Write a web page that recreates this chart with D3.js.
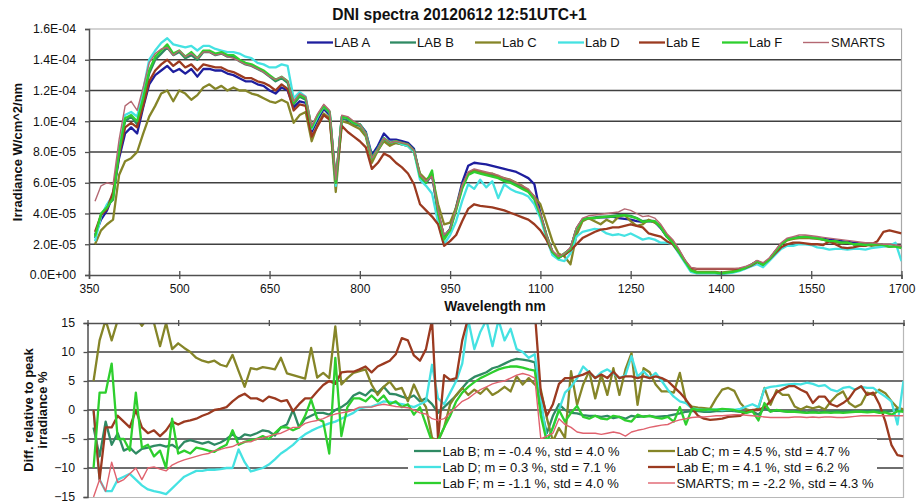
<!DOCTYPE html>
<html><head><meta charset="utf-8">
<script src="https://cdn.jsdelivr.net/npm/d3@7"></script>
<style>body{margin:0;background:#fff}svg{display:block;font-family:"Liberation Sans",Arial,sans-serif}</style>
</head><body><svg id="c" width="919" height="504"></svg>
<script>
// ---------- DATA ----------
const title = "DNI spectra 20120612 12:51UTC+1";
const wavelengths = [360,370,380,390,400,410,420,430,440,450,
460,470,480,490,500,510,520,530,540,550,
560,570,580,590,600,610,620,630,640,650,
660,670,680,690,700,710,720,730,740,750,
760,770,780,790,800,810,820,830,840,850,
860,870,880,890,900,910,920,930,940,950,
960,970,980,990,1000,1010,1020,1030,1040,1050,
1060,1070,1080,1090,1100,1110,1120,1130,1140,1150,
1160,1170,1180,1190,1200,1210,1220,1230,1240,1250,
1260,1270,1280,1290,1300,1310,1320,1330,1340,1350,
1360,1370,1380,1390,1400,1410,1420,1430,1440,1450,
1460,1470,1480,1490,1500,1510,1520,1530,1540,1550,
1560,1570,1580,1590,1600,1610,1620,1630,1640,1650,
1660,1670,1680,1690,1700];
const UNIT = 1e-5; // irradiance arrays are in 1E-05 W/cm^2/nm
const labA = [2.6,3.6,4.2,5.2,7.6,9.2,9.6,9.2,10.9,12.4,
13.0,13.3,13.6,13.2,13.4,13.1,13.4,12.9,13.4,13.4,
13.3,13.3,13.1,13.0,12.8,12.6,12.6,12.4,12.3,12.0,
11.8,12.2,12.0,10.9,11.3,11.2,9.3,10.1,10.8,10.4,
6.0,10.2,10.1,9.9,9.8,9.3,7.8,8.4,9.2,8.8,
8.8,8.7,8.6,8.2,6.4,6.0,6.5,4.0,2.5,3.0,
4.4,6.0,7.1,7.3,7.25,7.2,7.1,7.0,6.9,6.8,
6.7,6.5,6.3,5.9,4.0,2.6,1.5,1.1,1.35,1.7,
3.0,3.6,3.7,3.7,3.75,3.75,3.8,3.7,3.65,3.6,
3.5,3.45,3.5,3.45,3.05,2.5,2.1,1.5,0.9,0.3,
0.15,0.15,0.15,0.15,0.1,0.15,0.2,0.3,0.45,0.65,
0.9,0.65,1.0,1.5,2.0,2.3,2.4,2.45,2.45,2.4,
2.4,2.35,2.3,2.25,2.2,2.15,2.1,2.05,2.0,2.0,
2.0,1.95,1.9,1.9,1.85];
const labB = [2.4,3.9,4.5,4.9,8.2,10.0,10.3,9.8,11.4,13.1,
14.0,14.4,14.8,14.3,14.5,14.1,14.3,14.0,14.5,14.5,
14.3,14.4,14.2,14.2,13.9,13.7,13.6,13.4,13.2,12.9,
12.6,12.8,12.5,11.1,11.6,11.4,9.5,10.3,10.9,10.5,
6.1,10.2,10.1,9.8,9.7,9.1,7.5,8.1,8.8,8.5,
8.6,8.5,8.4,8.0,6.5,6.0,6.6,4.1,2.5,3.0,
4.3,5.7,6.6,6.8,6.7,6.6,6.5,6.4,6.2,6.1,
5.9,5.7,5.5,5.0,3.9,2.6,1.5,1.1,1.4,1.7,
3.0,3.6,3.7,3.75,3.8,3.8,3.85,3.9,3.9,3.85,
3.7,3.5,3.55,3.5,3.1,2.5,2.1,1.5,0.9,0.3,
0.15,0.15,0.15,0.15,0.1,0.15,0.2,0.3,0.45,0.65,
0.9,0.65,1.0,1.5,2.0,2.3,2.4,2.45,2.5,2.45,
2.4,2.3,2.2,2.2,2.1,2.1,2.0,2.0,1.95,2.0,
2.0,1.95,1.85,1.9,1.8];
const labC = [2.0,2.9,3.3,3.6,6.5,7.4,7.6,8.0,9.2,10.3,
11.0,11.8,12.0,11.3,12.0,11.8,11.4,11.7,12.2,12.4,
12.1,12.3,12.0,12.2,12.0,12.0,11.8,11.7,11.5,11.3,
11.2,11.4,11.2,9.9,10.4,10.6,8.7,9.8,10.5,10.2,
5.4,10.0,9.9,9.7,9.5,9.0,7.3,8.1,8.7,8.4,
8.6,8.5,8.4,8.0,6.6,6.2,6.5,4.6,3.3,3.4,
4.4,5.8,6.6,6.8,6.7,6.6,6.6,6.4,6.3,6.2,
6.0,5.8,5.5,5.1,4.6,3.4,2.2,1.4,1.2,0.7,
2.6,3.5,3.7,3.5,3.3,3.6,3.4,3.8,3.9,3.5,
3.2,3.3,3.6,3.4,3.2,2.6,2.2,1.6,0.95,0.35,
0.2,0.2,0.2,0.2,0.15,0.2,0.25,0.3,0.45,0.65,
0.9,0.6,1.0,1.5,2.0,2.25,2.35,2.4,2.4,2.4,
2.35,2.3,2.2,2.15,2.05,2.1,2.0,1.95,2.0,1.9,
1.95,1.9,1.85,1.9,1.85];
const labD = [2.2,3.8,4.6,5.2,8.2,10.4,10.6,10.3,12.0,14.0,
14.6,15.1,15.4,15.0,14.9,14.8,14.9,14.6,14.9,14.9,
14.7,14.6,14.5,14.5,14.4,14.2,14.1,13.8,13.7,13.5,
13.5,13.7,13.6,11.5,11.9,11.6,9.5,10.3,11.0,10.6,
5.8,10.3,10.2,9.9,9.8,9.2,7.6,8.2,8.9,8.6,
8.7,8.5,8.4,8.0,6.2,5.8,5.3,3.4,2.0,2.6,
3.5,4.8,5.9,5.6,6.2,5.7,6.1,5.0,5.9,5.6,
5.4,5.3,5.1,4.6,3.7,2.4,1.3,1.0,0.9,1.4,
2.5,2.8,2.9,3.0,2.95,2.7,2.6,2.65,2.55,2.7,
2.5,2.3,2.4,2.3,2.1,2.1,2.0,1.4,0.8,0.2,
0.1,0.1,0.1,0.1,0.05,0.1,0.15,0.25,0.4,0.55,
0.7,0.5,0.9,1.3,1.7,1.9,1.9,2.0,2.0,1.95,
1.8,1.75,1.65,1.7,1.7,1.65,1.7,1.7,1.65,1.75,
1.8,1.85,1.9,2.1,0.9];
const labE = [2.8,3.9,4.3,5.4,7.8,9.6,9.9,9.6,11.0,12.6,
13.3,13.7,14.0,13.6,13.9,13.5,13.7,13.3,13.7,13.6,
13.5,13.5,13.3,13.2,13.0,12.8,12.8,12.6,12.5,12.3,
12.0,12.4,12.1,10.7,11.1,11.0,9.0,9.7,10.4,10.1,
6.0,9.7,9.3,9.0,8.7,8.3,6.9,7.3,7.9,7.7,
7.3,7.0,6.6,5.9,4.6,4.2,3.8,3.3,1.9,2.2,
2.6,3.5,4.3,4.6,4.5,4.45,4.4,4.3,4.2,4.05,
3.9,3.75,3.6,3.3,2.9,2.3,1.5,1.2,1.3,1.6,
2.0,2.4,2.6,2.8,2.95,3.0,3.1,3.1,3.2,3.3,
3.2,3.1,2.7,2.6,2.5,2.2,2.0,1.5,0.9,0.45,
0.4,0.4,0.4,0.4,0.4,0.4,0.4,0.4,0.45,0.6,
0.85,0.7,1.0,1.4,1.8,2.0,2.1,2.1,2.05,2.0,
2.0,1.95,2.2,2.0,1.8,1.75,1.8,1.9,1.9,2.0,
2.2,2.8,2.9,2.8,2.7];
const labF = [2.5,4.0,4.4,5.0,8.0,10.2,10.4,10.0,11.5,13.3,
14.2,14.6,15.0,14.4,14.6,14.2,14.5,14.1,14.6,14.6,
14.4,14.5,14.3,14.3,14.0,13.8,13.7,13.5,13.3,13.0,
12.7,12.9,12.6,11.2,11.7,11.5,9.6,10.4,11.0,10.6,
6.0,10.3,10.2,9.9,9.8,9.2,7.6,8.2,8.9,8.6,
8.7,8.6,8.5,8.1,6.4,6.0,6.8,4.0,2.3,2.9,
4.2,5.6,6.5,6.7,6.6,6.5,6.4,6.3,6.1,6.0,
5.8,5.6,5.4,4.9,3.9,2.6,1.5,1.1,1.4,1.7,
3.0,3.6,3.7,3.7,3.75,3.8,3.8,3.85,3.9,3.8,
3.7,3.45,3.5,3.5,3.1,2.5,2.1,1.5,0.9,0.3,
0.15,0.15,0.15,0.15,0.1,0.15,0.2,0.3,0.45,0.65,
0.9,0.65,1.0,1.5,2.0,2.3,2.4,2.45,2.5,2.45,
2.4,2.3,2.2,2.2,2.1,2.1,2.0,2.0,1.95,2.0,
2.0,1.95,1.85,1.85,1.75];
const smarts = [4.8,5.8,6.0,5.9,8.8,11.0,11.3,10.7,12.2,13.8,
14.4,14.7,14.8,14.3,14.6,14.2,14.4,14.1,14.5,14.5,
14.3,14.4,14.2,14.1,13.9,13.7,13.6,13.4,13.2,12.9,
12.7,12.9,12.6,11.3,11.8,11.6,9.7,10.5,11.1,10.7,
6.2,10.4,10.3,10.0,9.8,9.2,7.6,8.2,8.9,8.6,
8.7,8.6,8.5,8.1,6.5,6.1,6.4,4.2,2.6,3.0,
4.3,5.8,6.7,6.9,6.8,6.7,6.6,6.5,6.3,6.2,
6.0,5.8,5.6,5.1,4.0,2.6,1.6,1.2,1.4,1.8,
3.1,3.7,3.85,3.9,3.95,4.0,4.05,4.1,4.3,4.2,
4.0,3.8,3.85,3.7,3.3,2.7,2.3,1.7,1.0,0.5,
0.4,0.4,0.4,0.4,0.4,0.4,0.4,0.45,0.55,0.7,
0.95,0.8,1.1,1.6,2.1,2.4,2.5,2.6,2.6,2.55,
2.5,2.45,2.4,2.35,2.3,2.25,2.2,2.15,2.1,2.1,
2.05,2.0,2.0,1.95,1.9];

// Differences relative to peak irradiance, %
const diffB = [-3,-8,-2,-6,-4,-7,-6.5,-7.5,-6.7,-6.5,
-6.2,-6.0,-6.3,-6.0,-6.7,-5.5,-5.2,-5.5,-5.8,-5.5,
-6.0,-5.6,-5.0,-4.2,-5.0,-4.2,-4.4,-4.0,-3.5,-3.7,
-4.4,-3.0,-2.5,0.0,-3.0,-1.5,-1.0,-0.5,-0.5,-0.8,
0,0.5,1.2,2.5,3.0,2.5,3.5,3.0,4.0,2.8,
2.7,2.3,2.0,2.5,1.5,2.0,1.0,-0.5,0.5,1.5,
2.5,3.8,5.0,5.7,6.1,6.5,7.2,7.5,8.0,8.5,
8.8,8.7,8.5,8.2,0.5,-4.0,-1.0,1.0,0,-0.5,
-0.6,-0.9,-1.0,-1.0,-1.2,-1.0,-1.4,-1.2,-1.5,-1.0,
-1.2,-1.1,-1.0,-1.2,-1.1,-1.0,-0.8,-0.6,-0.3,-0.2,
-0.2,-0.3,-0.3,-0.2,-0.2,-0.1,-0.2,-0.3,-0.4,-0.2,
-0.8,0.3,-0.2,-0.1,-0.2,-0.3,-0.2,-0.3,-0.4,-0.3,
-0.4,-0.3,-0.3,-0.2,-0.3,-0.2,-0.3,-0.2,-0.2,-0.1,
-0.2,-0.3,-0.2,0.2,-0.1];
const diffC = [5,12,15.5,12,15.5,16,15.2,16,14.5,16,
15,11,15,10.5,11.5,10.7,10.0,9.0,8.5,8.2,
8.5,7.8,7.5,9.5,6.7,4.0,7.2,7.0,7.4,7.2,
7.0,9.0,6.3,6.0,5.7,5.4,10.7,5.6,6.4,5.5,
14.4,4.4,5.5,6.4,6.7,7.0,4.4,2.6,4.0,4.9,
3.5,3.8,1.5,4.4,2.1,0.5,-4.8,-5.4,-3.0,1.0,
2.6,3.8,2.6,3.5,2.8,3.8,2.6,3.2,4.0,3.2,
5.8,4.4,5.5,4.4,3.5,-1.4,-5.4,-3.1,-4.8,6.7,
0.9,4.4,6.7,2.0,6.1,2.6,7.2,2.6,7.0,9.8,
0.9,7.2,6.5,4.4,3.2,3.2,3.0,6.4,1.5,0.6,
0.4,0.3,0.2,2.0,3.5,3.8,3.3,1.2,0.1,-0.2,
0.3,3.8,0.9,3.4,2.6,2.6,0.6,0.1,0.6,0.3,
0.6,0.1,1.5,2.6,3.2,1.2,0.5,1.0,3.0,2.6,
3.5,2.9,1.5,0.4,0.1];
const diffD = [0,-12,-14,-14,-12,-11.5,-11,-12,-13,-13.7,
-14,-14.2,-14.5,-13.5,-12.5,-11.5,-11,-10.5,-10.5,-10.3,
-10.3,-10.2,-10.0,-10.0,-6.8,-9.0,-10.6,-10.3,-10,-9.4,
-8.5,-7.5,-6.8,-6.0,-5.0,-4.2,-3.6,-3.1,-2.7,-2.3,
-2.0,-1.5,-1.0,-0.5,0.3,0.5,0.6,1.0,1.5,1.4,
1.2,1.0,0.8,0.5,1.0,1.5,7.8,2.0,1.0,3.0,
5.0,8.0,15.5,10.5,13.5,15.5,11,15.5,12,14,
10.5,10.0,9.0,9.6,2.0,-5.5,-3.0,0,3.0,4.0,
5.5,7.5,6.5,5.5,6.5,7.0,6.3,5.5,6.0,9.3,
5.8,6.7,5.5,6.4,5.0,3.5,2.3,1.5,1.2,0.3,
0.1,0,0,0.1,0,0.1,0,0.2,0.6,1.0,
0.5,3.7,4.0,4.1,4.3,4.4,4.5,4.4,4.7,4.5,
4.1,4.3,3.5,3.2,3.8,4.0,3.5,4.0,3.8,3.8,
3.0,2.3,1.5,-2.5,5.0];
const diffE = [0,-12,-3,-3,-1,-2,-3,0,-3,-4,
-3.5,-4.5,-3.5,-2,-2.5,-2,-1.8,-1.5,-1.0,-0.6,
0,0.2,0.5,1.5,2.3,2.8,2.0,2.0,1.5,2.3,
2.0,1.5,1.7,-0.2,1.0,2.0,2.0,3.2,4.3,5.0,
4.5,6.5,6.6,6.6,7.0,7.5,6.5,7.5,8.0,8.5,
9.6,12.4,12.0,9.4,8.5,10.5,15.5,-5,6.0,5.2,
5.5,12,16,17,17,17,17,17,17,17,
17,17,17,17,3,-1.0,1.0,4.5,5.5,5.5,
5.8,6.1,6.6,5.5,6.1,5.5,6.6,5.5,5.8,5.8,
5.5,5.8,5.5,5.8,5.5,5.0,4.0,3.0,1.8,0.3,
-1.0,-1.5,-1.7,-1.6,-1.5,-1.2,-1.1,-1.0,-0.3,0,
0,0.5,1.5,3.0,3.6,4.1,4.1,3.5,3.0,1.2,
2.3,2.3,1.0,0.6,1.2,2.0,3.5,4.1,2.6,3.0,
1.0,-2.0,-6.0,-7.8,-8.0];
const diffF = [-10,3,3,8,-5,-5,-7,3,-6.5,-6,
-8,-7,-10,-1.5,-7.5,-7,-7.5,-6.5,-6.7,-7,
-7.2,-6.5,-6.0,-3.5,-6.0,-5.5,-5.2,-5,-4.5,-5,
-4,-3.0,-3.0,-3.5,-3,-1.0,1.8,-1.5,-2,-7.5,
9,-4.5,0.5,2.0,2.0,1.5,2.5,1.5,2.5,1.0,
1.5,0.5,1.0,-0.8,0.5,-2.5,-5.5,-5.2,-3,-1.0,
1.5,3.0,4.0,4.8,5.5,6.0,6.5,7.0,7.3,7.5,
7.5,7.3,7.0,6.8,-1,-5.5,-3,0,-2,-0.5,
0.7,-1.2,-1.5,-1.0,-1.5,-1.6,-1.0,-1.2,-1.8,-2.0,
-0.8,-1.2,-1.0,-1.3,-1.5,-1.2,-2.0,0.5,-2.5,0.2,
0,0,0.1,0,0.2,0.1,0,-0.3,-0.5,-0.2,
-1.8,1.2,-0.3,0,-0.2,-0.3,-0.3,-0.4,-0.5,-0.4,
-0.5,-0.4,-0.5,-0.4,-0.5,-0.4,-0.3,-0.3,-0.4,-0.3,
-0.5,-0.4,-0.8,-0.2,-0.3];
const diffS = [-15,-12,-14,-9,-12.5,-12,-11,-10,-12,-10,
-9.8,-10.2,-10.5,-9.5,-9.0,-8.6,-8.3,-8,-7.7,-7.5,
-7.0,-6.8,-6.5,-6.3,-5.8,-5.5,-5.5,-5.0,-4.8,-4.5,
-4.2,-4.0,-3.5,-3.0,-3.0,-2.3,-2.0,-1.8,-1.5,-1.0,
-0.7,-0.5,-0.3,0,0.5,0.5,0.5,0.8,1.0,0.8,
0.6,0.5,0.4,0,-0.5,-0.7,-1.5,-1.8,-1.5,-0.5,
0.5,1.5,2.0,2.8,3.5,4.0,4.5,4.8,5.0,5.5,
6.0,6.3,6.0,5.5,-5,-4.5,-4.0,-1.5,-2.5,-3.0,
-3.8,-4.0,-4.0,-4.0,-4.2,-4.0,-3.8,-4.0,-4.5,-3.8,
-3.5,-3.3,-3.0,-2.8,-2.6,-2.5,-2.0,-1.7,-1.5,-1.3,
-1.2,-1.2,-1.1,-1.0,-1.0,-0.9,-0.8,-0.8,-0.9,-1.0,
-1.1,-1.2,-1.3,-1.3,-1.3,-1.3,-1.2,-1.2,-1.3,-1.2,
-1.3,-1.2,-1.2,-1.3,-1.3,-1.2,-1.1,-1.0,-1.0,-1.0,
-1.0,-1.0,-1.0,-1.0,-1.0];

const topNames = ["LAB A","LAB B","Lab C","Lab D","Lab E","Lab F","SMARTS"];
const topColors = ["#1e1e9e","#2f8a63","#858528","#45e2e2","#9b3a20","#2ecf2e","#b46872"];
const topValues = [labA,labB,labC,labD,labE,labF,smarts];
const diffLabels = ["Lab B; m = -0.4 %, std = 4.0 %","Lab C; m = 4.5 %, std = 4.7 %",
  "Lab D; m = 0.3 %, std = 7.1 %","Lab E; m = 4.1 %, std = 6.2 %",
  "Lab F; m = -1.1 %, std = 4.0 %","SMARTS; m = -2.2 %, std = 4.3 %"];
const diffColors = ["#2f8a63","#858528","#45e2e2","#9b3a20","#2ecf2e","#e0626e"];
const diffValues = [diffB,diffC,diffD,diffE,diffF,diffS];
const xTicks = [350,500,650,800,950,1100,1250,1400,1550,1700];
const yTicksTop = [0,2,4,6,8,10,12,14,16];       // in UNIT
const yTicksDiff = [-15,-10,-5,0,5,10,15];

// ---------- CHART ----------
const svg = d3.select("#c");
svg.append("rect").attr("width",919).attr("height",504).attr("fill","#fff");
const GRID = "#404040", AX = "#505050", FONT = "Liberation Sans, Arial, sans-serif";
const LW = 2.3, LW_THIN = 1.4;

function fmtE(v){
  const d = v*UNIT;
  if (d===0) return "0.0E+00";
  const e = Math.floor(Math.log10(d)+1e-9);
  const m = d/Math.pow(10,e);
  return m.toFixed(1)+"E-"+String(-e).padStart(2,"0");
}

// ===== Top chart =====
const x = d3.scaleLinear().domain([350,1700]).range([89,901.5]);
const y = d3.scaleLinear().domain([0,16]).range([275,29]);

svg.append("defs").html('<clipPath id="cpTop"><rect x="89" y="29" width="812.5" height="246"/></clipPath><clipPath id="cpBot"><rect x="87.5" y="323" width="816" height="174"/></clipPath>');

svg.append("g").selectAll("line").data(yTicksTop.filter(t=>t>0&&t<16)).join("line")
  .attr("x1",89).attr("x2",901.5).attr("y1",d=>y(d)).attr("y2",d=>y(d))
  .attr("stroke",GRID).attr("stroke-width",1.3);
svg.append("path").attr("d",`M89,${y(16)}H901.5V275`).attr("fill","none").attr("stroke","#a8a8a8").attr("stroke-width",1.2);

const lineTop = d3.line().x((d,i)=>x(wavelengths[i])).y(d=>y(d));
const gTop = svg.append("g").attr("clip-path","url(#cpTop)");
topValues.forEach((vals,k)=>{
  gTop.append("path").attr("d",lineTop(vals)).attr("fill","none")
    .attr("stroke",topColors[k]).attr("stroke-width",k===6?LW_THIN:LW).attr("stroke-linejoin","round");
});

// legend top
svg.append("rect").attr("x",298).attr("y",30).attr("width",603).attr("height",29).attr("fill","#fff");
const legX = [307,390,475,558,639,722,803];
const lg = svg.append("g");
topNames.forEach((n,k)=>{
  const x0 = legX[k];
  lg.append("line").attr("x1",x0).attr("x2",x0+26).attr("y1",42.5).attr("y2",42.5)
    .attr("stroke",topColors[k]).attr("stroke-width",k===6?LW_THIN:LW);
  lg.append("text").attr("x",x0+(k===6?28:27)).attr("y",47).text(n)
    .attr("font-size","13px").attr("fill","#111");
});

// axes top
const yAx = svg.append("g").attr("transform","translate(89,0)")
  .call(d3.axisLeft(y).tickValues(yTicksTop).tickSize(4).tickPadding(9).tickFormat(fmtE));
yAx.select(".domain").attr("stroke",AX).attr("stroke-width",1.5);
yAx.selectAll(".tick line").attr("stroke",AX).attr("stroke-width",1.3);
yAx.selectAll("text").attr("font-size","12.3px").attr("font-family",FONT).attr("fill","#111");

const xAx = svg.append("g").attr("transform","translate(0,275)")
  .call(d3.axisBottom(x).tickValues(xTicks).tickSize(4).tickFormat(d3.format("d")));
xAx.select(".domain").attr("stroke",AX).attr("stroke-width",1.5);
xAx.selectAll(".tick line").attr("stroke",AX).attr("stroke-width",1.3).attr("y1",-4).attr("y2",4);
xAx.selectAll("text").attr("y",9.5).attr("font-size","12px").attr("font-family",FONT).attr("fill","#111");

svg.append("text").attr("x",459.5).attr("y",20).attr("text-anchor","middle")
  .attr("font-size","15.6px").attr("font-weight","bold").attr("fill","#111").text(title);
svg.append("text").attr("transform","translate(21.5,152) rotate(-90)").attr("text-anchor","middle")
  .attr("font-size","13px").attr("font-weight","bold").attr("fill","#111").text("Irradiance W/cm^2/nm");
svg.append("text").attr("x",495).attr("y",311).attr("text-anchor","middle")
  .attr("font-size","13.8px").attr("font-weight","bold").attr("fill","#111").text("Wavelength nm");

// ===== Bottom chart =====
const x2 = d3.scaleLinear().domain([350,1700]).range([87.5,903.5]);
const y2 = d3.scaleLinear().domain([-15,15]).range([497,323]);

svg.append("g").selectAll("line").data(yTicksDiff.filter(t=>t>-15&&t<15)).join("line")
  .attr("x1",87.5).attr("x2",903.5).attr("y1",d=>y2(d)).attr("y2",d=>y2(d))
  .attr("stroke",d=>d===-10?"#6e6e6e":GRID).attr("stroke-width",d=>d===-10?2:1.3);
svg.append("path").attr("d",`M903.5,323V497.5H87.5`).attr("fill","none").attr("stroke","#b8b8b8").attr("stroke-width",1.2);

const lineBot = d3.line().x((d,i)=>x2(wavelengths[i])).y(d=>y2(d));
const gBot = svg.append("g").attr("clip-path","url(#cpBot)");
diffValues.forEach((vals,k)=>{
  gBot.append("path").attr("d",lineBot(vals)).attr("fill","none")
    .attr("stroke",diffColors[k]).attr("stroke-width",k===5?LW_THIN:LW).attr("stroke-linejoin","round");
});

// bottom legend
svg.append("rect").attr("x",408).attr("y",439).attr("width",469).attr("height",58).attr("fill","#fff");
const lb = svg.append("g");
diffLabels.forEach((t,k)=>{
  const col = k%2, row = Math.floor(k/2);
  const x0 = col===0?414:648, yy = 451+row*16;
  lb.append("line").attr("x1",x0).attr("x2",x0+27).attr("y1",yy).attr("y2",yy)
    .attr("stroke",diffColors[k]).attr("stroke-width",k===5?LW_THIN:LW);
  lb.append("text").attr("x",x0+28.5).attr("y",yy+4.5).text(t)
    .attr("font-size","13px").attr("fill","#111");
});

const y2Ax = svg.append("g").attr("transform","translate(87.5,0)")
  .call(d3.axisLeft(y2).tickValues(yTicksDiff).tickSize(4).tickPadding(8.5).tickFormat(d3.format("d")));
y2Ax.select(".domain").attr("stroke",AX).attr("stroke-width",1.5);
y2Ax.selectAll(".tick line").attr("stroke",AX).attr("stroke-width",1.3);
y2Ax.selectAll("text").attr("font-size","12.3px").attr("font-family",FONT).attr("fill","#111");

const x2Ax = svg.append("g").attr("transform","translate(0,323)")
  .call(d3.axisBottom(x2).tickValues(xTicks).tickSize(3).tickFormat(""));
x2Ax.select(".domain").attr("stroke",AX).attr("stroke-width",1.5);
x2Ax.selectAll(".tick line").attr("stroke",AX).attr("stroke-width",1.3).attr("y1",-3).attr("y2",3);

const yt = svg.append("text").attr("transform","translate(0,410) rotate(-90)").attr("text-anchor","middle")
  .attr("font-size","13px").attr("font-weight","bold").attr("fill","#111");
yt.append("tspan").attr("x",0).attr("y",32.5).text("Diff. relative to peak");
yt.append("tspan").attr("x",0).attr("y",47).text("irradiance %");
</script></body></html>
